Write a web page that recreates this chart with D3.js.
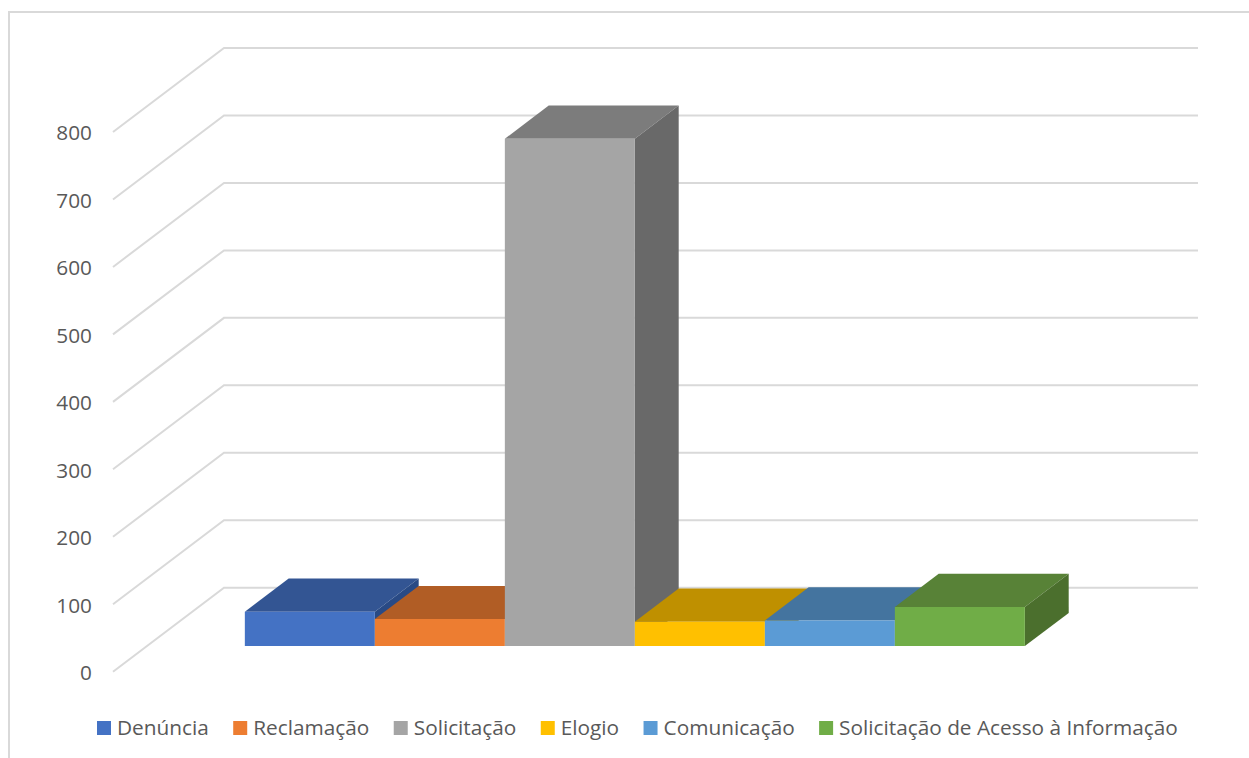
<!DOCTYPE html>
<html>
<head>
    <meta charset="utf-8" />
    <title>Manifestações</title>
    <script src="https://d3js.org/d3.v7.min.js" charset="utf-8"></script>
    <style>
        html, body { margin: 0; padding: 0; background: #fff; }
        svg { display: block; }
    </style>
</head>
<body>
    <script>
        // Values
        const categories = ["Denúncia", "Reclamação", "Solicitação", "Elogio", "Comunicação", "Solicitação de Acesso à Informação"];
        const values = [51, 40, 752, 36, 38, 58];
        const tickValues = [0, 100, 200, 300, 400, 500, 600, 700, 800];
        const frontColors = ["#4472c4", "#ed7d31", "#a5a5a5", "#ffc000", "#5b9bd5", "#70ad47"];
        const topColors = ["#335593", "#b15d25", "#7c7c7c", "#bf9000", "#44749f", "#588237"];
        const sideColors = ["#294a85", "#9e5321", "#696969", "#ab8100", "#3d688f", "#4b6f2d"];

        const width = 1249;
        const height = 758;
        const font = "'Open Sans', sans-serif";
        const fontSize = 20.8;
        const textColor = "#595959";
        const gridColor = "#d9d9d9";

        const svg = d3.select("body")
            .append("svg")
            .attr("width", width)
            .attr("height", height)
            .attr("viewBox", [0, 0, width, height]);

        // Chart frame, only the left and top edges are inside the picture
        svg.append("path")
            .attr("d", d3.line()([[9, height], [9, 12], [width, 12]]))
            .attr("fill", "none")
            .attr("stroke", gridColor)
            .attr("stroke-width", 2);

        // Front plane scales, the depth scale moves a point towards the back wall
        const y = d3.scaleLinear().domain([0, 800]).range([671.7, 132]);
        const x = d3.scaleBand()
            .domain(categories)
            .range([114, 1088])
            .paddingInner(0)
            .paddingOuter(0.746);
        const depthX = d3.scaleLinear().domain([0, 1]).range([0, 111]);
        const depthY = d3.scaleLinear().domain([0, 1]).range([0, -84]);
        const barNear = 0.305;
        const barFar = 0.70;

        function project(px, value, depth) {
            return [px + depthX(depth), y(value) + depthY(depth)];
        }

        // Gridlines run along the floor side, then across the back wall
        const frontLeft = x.range()[0] - 1;
        const frontRight = x.range()[1] - 1;
        svg.append("g")
            .selectAll("path")
            .data(tickValues)
            .enter()
            .append("path")
            .attr("d", d => d3.line()([project(frontLeft, d, 0), project(frontLeft, d, 1), project(frontRight, d, 1)]))
            .attr("fill", "none")
            .attr("stroke", gridColor)
            .attr("stroke-width", 2);

        // Tick labels
        svg.append("g")
            .selectAll("text")
            .data(tickValues)
            .enter()
            .append("text")
            .attr("x", 92)
            .attr("y", d => y(d) + 1)
            .attr("dy", "0.35em")
            .attr("text-anchor", "end")
            .attr("font-family", font)
            .attr("font-size", fontSize)
            .attr("fill", textColor)
            .text(d => d);

        // Bars, painted left to right so each one covers the side of the previous
        const bars = svg.append("g")
            .selectAll("g")
            .data(categories)
            .enter()
            .append("g");

        const polygon = pts => pts.map(p => p.join(",")).join(" ");

        bars.append("polygon")
            .attr("fill", (d, i) => topColors[i])
            .attr("points", (d, i) => polygon([
                project(x(d), values[i], barNear),
                project(x(d) + x.bandwidth(), values[i], barNear),
                project(x(d) + x.bandwidth(), values[i], barFar),
                project(x(d), values[i], barFar)
            ]));

        bars.append("polygon")
            .attr("fill", (d, i) => sideColors[i])
            .attr("points", (d, i) => polygon([
                project(x(d) + x.bandwidth(), 0, barNear),
                project(x(d) + x.bandwidth(), values[i], barNear),
                project(x(d) + x.bandwidth(), values[i], barFar),
                project(x(d) + x.bandwidth(), 0, barFar)
            ]));

        bars.append("polygon")
            .attr("fill", (d, i) => frontColors[i])
            .attr("points", (d, i) => polygon([
                project(x(d), 0, barNear),
                project(x(d) + x.bandwidth(), 0, barNear),
                project(x(d) + x.bandwidth(), values[i], barNear),
                project(x(d), values[i], barNear)
            ]));

        // Legend laid out from the measured text widths
        const legend = svg.append("g").attr("transform", "translate(97, 728)");
        const legendItems = legend.selectAll("g")
            .data(categories)
            .enter()
            .append("g");

        legendItems.append("rect")
            .attr("y", -7)
            .attr("width", 14)
            .attr("height", 14)
            .attr("fill", (d, i) => frontColors[i]);

        legendItems.append("text")
            .attr("x", 20)
            .attr("dy", "0.35em")
            .attr("font-family", font)
            .attr("font-size", fontSize)
            .attr("fill", textColor)
            .text(d => d);

        let legendX = 0;
        legendItems.each(function() {
            d3.select(this).attr("transform", `translate(${legendX}, 0)`);
            legendX += 20 + d3.select(this).select("text").node().getComputedTextLength() + 24.4;
        });
    </script>
</body>
</html>
